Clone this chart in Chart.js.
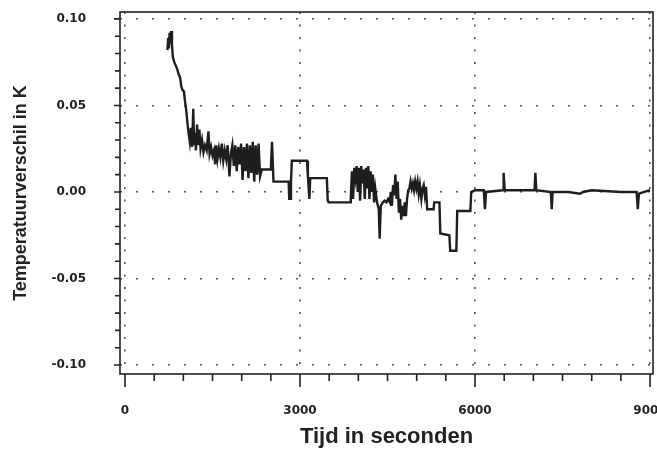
<!DOCTYPE html>
<html><head><meta charset="utf-8">
<script src="https://cdn.jsdelivr.net/npm/chart.js@4.4.0/dist/chart.umd.min.js"></script>
<style>html,body{margin:0;padding:0;background:#fff;} canvas{display:block;}</style>
</head><body>
<canvas id="c" width="657" height="470"></canvas>
<script>
const timeSec = [
  727,740,752,765,778,790,805,820,845,870,895,920,945,965,985,1010,1030,1050,1070,1090,
  1110,1130,1150,1170,1185,1200,1215,1235,1255,1275,1295,1320,1345,1370,1400,1430,1450,1475,1500,1525,
  1545,1565,1585,1610,1635,1660,1685,1710,1735,1760,1790,1815,1840,1865,1890,1915,1940,1965,1990,2015,
  2040,2065,2090,2115,2140,2165,2190,2215,2240,2265,2290,2315,2345,2420,2500,2520,2535,2545,2700,2805,
  2815,2835,2845,2860,3000,3120,3135,3160,3175,3460,3475,3490,3860,
  3870,3890,3910,3930,3950,3970,3990,4010,4030,4050,4070,4090,4110,4130,4150,4170,4190,4210,4230,4250,
  4270,4290,4320,4350,4365,4385,4420,4450,4480,4510,4540,
  4555,4575,4595,4615,4635,4655,4675,4695,4715,4735,4755,4775,4795,4815,4835,4855,4875,
  4895,4915,4935,4955,4975,4995,5015,5035,5055,5080,5100,5120,5140,5160,5180,5290,5300,5390,5405,5560,
  5575,5680,5695,5920,5935,6000,6150,6170,6190,6480,6490,6510,7020,7035,7050,7300,7315,7330,7600,7800,
  7850,8000,8500,8770,8790,8810,8900,9000
];
const tempDiffK = [
  0.082,0.089,0.083,0.092,0.086,0.093,0.085,0.078,0.075,0.073,0.071,0.068,0.066,0.061,0.059,0.058,0.052,0.047,0.040,0.034,
  0.029,0.037,0.026,0.048,0.027,0.034,0.024,0.039,0.027,0.036,0.025,0.030,0.023,0.027,0.024,0.035,0.022,0.026,0.021,0.024,
  0.016,0.027,0.019,0.025,0.020,0.028,0.018,0.024,0.019,0.027,0.009,0.022,0.027,0.015,0.027,0.012,0.026,0.016,0.028,0.007,
  0.026,0.012,0.028,0.008,0.027,0.011,0.029,0.006,0.027,0.010,0.028,0.009,0.013,0.013,0.013,0.029,0.029,0.006,0.006,0.006,
  -0.004,-0.004,0.006,0.018,0.018,0.018,0.009,-0.004,0.008,0.008,-0.005,-0.006,-0.006,
  -0.004,0.012,-0.004,0.014,0.008,0.015,0.000,0.014,-0.005,0.015,0.005,0.013,-0.004,0.014,0.002,0.015,-0.004,0.012,0.000,0.010,
  -0.006,0.002,-0.006,-0.010,-0.027,-0.008,-0.006,-0.005,-0.006,-0.004,-0.006,
  0.000,-0.008,0.004,-0.002,0.010,-0.004,0.006,-0.012,-0.004,-0.016,-0.008,-0.014,-0.006,-0.014,-0.004,0.001,0.002,
  0.006,0.002,0.005,0.001,0.006,0.002,0.006,-0.001,0.004,-0.004,0.002,0.004,-0.002,0.003,-0.010,-0.010,-0.006,-0.006,-0.024,-0.025,
  -0.034,-0.034,-0.011,-0.011,0.000,0.001,0.001,-0.010,0.000,0.001,0.011,0.001,0.001,0.011,0.001,0.000,-0.010,0.000,0.000,-0.001,
  0.000,0.001,0.000,0.000,-0.010,-0.001,0.000,0.001
];
const xMajorTicks = [0, 3000, 6000, 9000];
const xMinorTicks = [0,500,1000,1500,2000,2500,3000,3500,4000,4500,5000,5500,6000,6500,7000,7500,8000,8500,9000];
const yMajorTicks = [-0.10, -0.05, 0.00, 0.05, 0.10];
const yMinorTicks = [-0.10,-0.09,-0.08,-0.07,-0.06,-0.05,-0.04,-0.03,-0.02,-0.01,0.00,0.01,0.02,0.03,0.04,0.05,0.06,0.07,0.08,0.09,0.10];
const xTitle = 'Tijd in seconden';
const yTitle = 'Temperatuurverschil in K';

const points = timeSec.map((t, i) => ({ x: t, y: tempDiffK[i] }));
const isMajor = (list, v) => list.some(m => Math.abs(m - v) < 1e-9);

const boxAxes = {
  id: 'boxAxes',
  afterDraw(chart) {
    const { ctx, chartArea: a, scales: { x, y } } = chart;
    ctx.save();
    ctx.strokeStyle = '#222';
    ctx.lineWidth = 1.6;
    ctx.strokeRect(a.left, a.top, a.right - a.left, a.bottom - a.top);
    ctx.beginPath();
    xMinorTicks.forEach(v => {
      const px = x.getPixelForValue(v);
      const len = isMajor(xMajorTicks, v) ? 13 : 7;
      ctx.moveTo(px, a.bottom);
      ctx.lineTo(px, a.bottom + len);
    });
    yMinorTicks.forEach(v => {
      const py = y.getPixelForValue(v);
      const len = isMajor(yMajorTicks, v) ? 6 : 5;
      ctx.moveTo(a.left, py);
      ctx.lineTo(a.left - len, py);
    });
    ctx.stroke();
    ctx.restore();
  }
};

const tickFont = { family: 'DejaVu Sans', weight: 'bold', size: 12 };

new Chart(document.getElementById('c'), {
  type: 'line',
  data: {
    datasets: [{
      data: points,
      borderColor: '#1e1e1e',
      borderWidth: 2.4,
      pointRadius: 0,
      tension: 0,
      fill: false
    }]
  },
  options: {
    responsive: false,
    animation: false,
    layout: { padding: { left: 0, right: 4, top: 12, bottom: 0 } },
    plugins: { legend: { display: false }, tooltip: { enabled: false } },
    scales: {
      x: {
        type: 'linear',
        min: -86, max: 9051,
        afterBuildTicks: s => { s.ticks = xMajorTicks.map(v => ({ value: v })); },
        afterFit: s => { s.height = 96; s.paddingLeft = 0; s.paddingRight = 0; },
        ticks: { autoSkip: false, maxRotation: 0, padding: 30, font: tickFont, color: '#222',
                 callback: v => String(v) },
        grid: { drawTicks: false, color: '#555', lineWidth: 1.6 },
        border: { display: false, dash: [2, 10.5] },
        title: { display: true, text: xTitle, color: '#222',
                 font: { family: 'Liberation Sans', weight: 'bold', size: 22 },
                 padding: { top: 0, bottom: 20 } }
      },
      y: {
        type: 'linear',
        min: -0.1052, max: 0.104,
        afterBuildTicks: s => { s.ticks = yMajorTicks.map(v => ({ value: v })); },
        afterFit: s => { s.width = 120; s.paddingTop = 0; s.paddingBottom = 0; },
        ticks: { autoSkip: false, padding: 34, font: tickFont, color: '#222',
                 callback: v => (Math.abs(v) < 1e-9 ? 0 : v).toFixed(2) },
        grid: { drawTicks: false, color: '#555', lineWidth: 1.6 },
        border: { display: false, dash: [2, 14] },
        title: { display: true, text: yTitle, color: '#222',
                 font: { family: 'Liberation Sans', weight: 'bold', size: 18 },
                 padding: { top: 10, bottom: 0 } }
      }
    }
  },
  plugins: [boxAxes]
});
</script>
</body></html>
